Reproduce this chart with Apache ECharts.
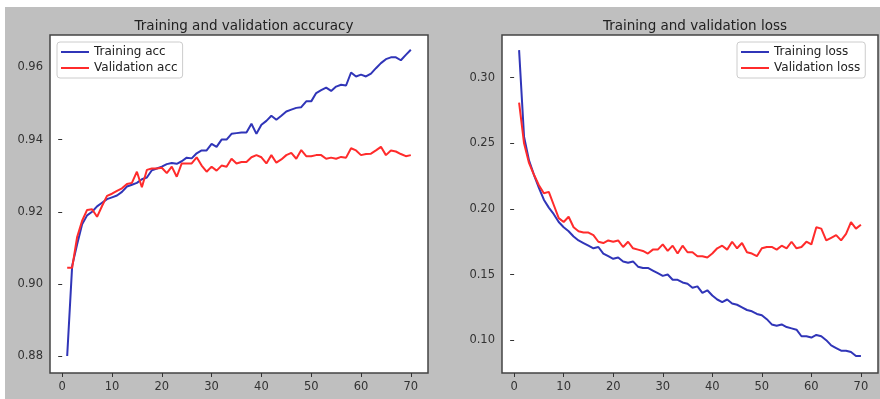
<!DOCTYPE html>
<html lang="en">
<head>
    <meta charset="UTF-8">
    <title>Training and validation</title>
    <script src="https://cdn.jsdelivr.net/npm/echarts@6.0.0/dist/echarts.min.js"></script>
    <style>
        html, body { margin: 0; padding: 0; background: #fff; }
        #main {
            position: absolute;
            left: 5px;
            top: 7px;
            width: 875px;
            height: 392px;
        }
    </style>
</head>
<body>
    <div id="main"></div>
    <script type="text/javascript">
        // epochs 1..70
        const epochs = [];
        for (let i = 1; i <= 70; i++) epochs.push(i);

        const trainAcc = [
          0.880, 0.905, 0.911, 0.9165, 0.919, 0.920, 0.9215, 0.9225, 0.9235, 0.924,
          0.9245, 0.9255, 0.927, 0.9275, 0.928, 0.929, 0.9295, 0.9315, 0.932, 0.9325,
          0.9332, 0.9335, 0.9333, 0.934, 0.935, 0.9348, 0.9362, 0.937, 0.937, 0.9388,
          0.938, 0.940, 0.940, 0.9416, 0.9418, 0.942, 0.942, 0.9444, 0.9416, 0.9441,
          0.9452, 0.9466, 0.9455, 0.9466, 0.9478, 0.9483, 0.9488, 0.949, 0.9506, 0.9506,
          0.9529, 0.9537, 0.9544, 0.9535, 0.9547, 0.9552, 0.955, 0.9586, 0.9575, 0.958,
          0.9575, 0.9583, 0.9598, 0.9612, 0.9623, 0.9628, 0.9628, 0.962, 0.9635, 0.9649
        ];
        const valAcc = [
          0.9045, 0.9045, 0.913, 0.9175, 0.9205, 0.9207, 0.9186, 0.9216, 0.9244, 0.925,
          0.9258, 0.9265, 0.9277, 0.928, 0.9311, 0.9268, 0.9316, 0.932, 0.932, 0.9322,
          0.9307, 0.9325, 0.9297, 0.9334, 0.9334, 0.9334, 0.9351, 0.9328, 0.9311, 0.9325,
          0.9314, 0.9328, 0.9325, 0.9347, 0.9334, 0.9338, 0.9338, 0.9351, 0.9357, 0.9351,
          0.9334, 0.9357, 0.9336, 0.9345, 0.9357, 0.9363, 0.9347, 0.9371, 0.9354, 0.9354,
          0.9357, 0.9357, 0.9347, 0.935, 0.9347, 0.9352, 0.935, 0.9376, 0.937, 0.9357,
          0.936, 0.9361, 0.937, 0.938, 0.9357, 0.937, 0.9367, 0.936, 0.9354, 0.9357
        ];
        const trainLoss = [
          0.321, 0.255, 0.237, 0.226, 0.216, 0.207, 0.201, 0.196, 0.190, 0.186,
          0.183, 0.179, 0.176, 0.174, 0.172, 0.170, 0.171, 0.166, 0.164, 0.162,
          0.163, 0.160, 0.159, 0.160, 0.156, 0.155, 0.155, 0.153, 0.151, 0.149,
          0.150, 0.146, 0.146, 0.144, 0.143, 0.140, 0.141, 0.136, 0.138, 0.134,
          0.131, 0.129, 0.131, 0.128, 0.127, 0.125, 0.123, 0.122, 0.120, 0.119,
          0.116, 0.112, 0.111, 0.112, 0.110, 0.109, 0.108, 0.103, 0.103, 0.102,
          0.104, 0.103, 0.100, 0.096, 0.094, 0.092, 0.092, 0.091, 0.088, 0.088
        ];
        const valLoss = [
          0.281, 0.250, 0.235, 0.226, 0.218, 0.212, 0.213, 0.203, 0.193, 0.190,
          0.194, 0.186, 0.183, 0.182, 0.182, 0.180, 0.175, 0.174, 0.176, 0.175,
          0.176, 0.171, 0.175, 0.170, 0.169, 0.168, 0.166, 0.169, 0.169, 0.173,
          0.168, 0.172, 0.166, 0.172, 0.167, 0.167, 0.164, 0.164, 0.163, 0.166,
          0.170, 0.172, 0.169, 0.175, 0.170, 0.174, 0.167, 0.166, 0.164, 0.170,
          0.171, 0.171, 0.169, 0.172, 0.170, 0.175, 0.170, 0.171, 0.175, 0.173,
          0.186, 0.185, 0.176, 0.178, 0.180, 0.176, 0.181, 0.190, 0.185, 0.188
        ];

        const xTicks = [0, 10, 20, 30, 40, 50, 60, 70];
        const accTicks = [0.88, 0.90, 0.92, 0.94, 0.96];
        const lossTicks = [0.10, 0.15, 0.20, 0.25, 0.30];

        const FONT = 'DejaVu Sans';
        const BLUE = '#3035b8';
        const RED = '#ff2b2b';
        const INK = '#333';

        function pairs(ys) {
          return ys.map((y, i) => [epochs[i], y]);
        }

        function xAxis(idx) {
          return {
            type: 'value',
            gridIndex: idx,
            min: -2.45,
            max: 73.45,
            splitLine: { show: false },
            axisLine: { show: false },
            axisTick: { show: true, length: 4, lineStyle: { color: INK }, customValues: xTicks },
            axisLabel: { color: INK, fontFamily: FONT, fontSize: 11.5, margin: 8, customValues: xTicks }
          };
        }

        function yAxis(idx, min, max, ticks) {
          return {
            type: 'value',
            gridIndex: idx,
            min: min,
            max: max,
            splitLine: { show: false },
            axisLine: { show: false },
            axisTick: { show: true, length: 4, lineStyle: { color: INK }, customValues: ticks },
            axisLabel: {
              color: INK, fontFamily: FONT, fontSize: 11.5, margin: 7, customValues: ticks,
              formatter: v => v.toFixed(2)
            }
          };
        }

        function line(name, data, color, idx) {
          return {
            name: name,
            type: 'line',
            xAxisIndex: idx,
            yAxisIndex: idx,
            data: pairs(data),
            symbol: 'none',
            lineStyle: { color: color, width: 2 },
            itemStyle: { color: color },
            animation: false
          };
        }

        const legendBase = {
          orient: 'vertical',
          top: 35,
          icon: 'rect',
          itemWidth: 28,
          itemHeight: 2,
          itemGap: 4,
          backgroundColor: '#fff',
          borderColor: '#ccc',
          borderWidth: 1,
          borderRadius: 3,
          padding: [4, 5, 4, 4],
          textStyle: { color: '#222', fontFamily: FONT, fontSize: 12 }
        };

        const option = {
          backgroundColor: '#bfbfbf',
          animation: false,
          title: [
            {
              text: 'Training and validation accuracy',
              left: 234, top: 7, textAlign: 'center',
              textStyle: { color: '#222', fontFamily: FONT, fontSize: 13.5, fontWeight: 'normal' }
            },
            {
              text: 'Training and validation loss',
              left: 685, top: 7, textAlign: 'center',
              textStyle: { color: '#222', fontFamily: FONT, fontSize: 13.5, fontWeight: 'normal' }
            }
          ],
          legend: [
            Object.assign({}, legendBase, { left: 52, data: ['Training acc', 'Validation acc'] }),
            Object.assign({}, legendBase, { left: 732, data: ['Training loss', 'Validation loss'] })
          ],
          grid: [
            { left: 45, top: 28, width: 378, height: 338, show: true, backgroundColor: '#fff', borderColor: '#444', borderWidth: 1.5 },
            { left: 497, top: 28, width: 376, height: 338, show: true, backgroundColor: '#fff', borderColor: '#444', borderWidth: 1.5 }
          ],
          xAxis: [xAxis(0), xAxis(1)],
          yAxis: [
            yAxis(0, 0.8753, 0.969, accTicks),
            yAxis(1, 0.075, 0.3325, lossTicks)
          ],
          series: [
            line('Training acc', trainAcc, BLUE, 0),
            line('Validation acc', valAcc, RED, 0),
            line('Training loss', trainLoss, BLUE, 1),
            line('Validation loss', valLoss, RED, 1)
          ]
        };

        const myChart = echarts.init(document.getElementById('main'));
        myChart.setOption(option);
    </script>
</body>
</html>
